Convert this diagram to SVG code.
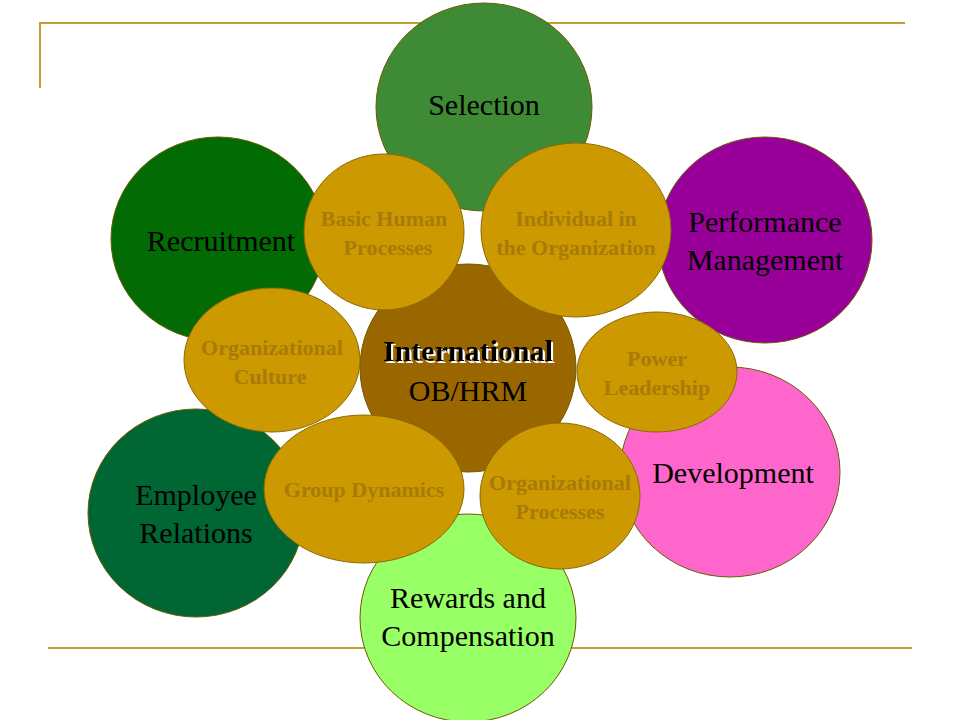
<svg xmlns="http://www.w3.org/2000/svg" width="960" height="720" viewBox="0 0 960 720">
<style>
.o{stroke:#6b5a00;stroke-width:1}
.g{fill:#CC9900;stroke:#8a6a00;stroke-width:1}
.t{font-family:"Liberation Serif",serif;font-size:30px;fill:#000;text-anchor:middle}
.s{font-family:"Liberation Serif",serif;font-size:22px;font-weight:bold;fill:#A87A08;text-anchor:middle}
.ln{stroke:#C0A030;stroke-width:2;fill:none}
</style>
<defs><filter id="sh" x="-10%" y="-30%" width="120%" height="160%"><feDropShadow dx="2" dy="2" stdDeviation="0" flood-color="#fff"/></filter></defs>
<rect width="960" height="720" fill="#fff"/>
<g id="connectors">
<path class="ln" d="M40,88 V23 H905"/>
<path class="ln" d="M48,648 H912"/>
</g>
<g id="selection"><ellipse class="o" cx="484" cy="107" rx="108" ry="104" fill="#3F8A35"/><text class="t" x="484" y="115">Selection</text></g>
<g id="recruitment"><ellipse class="o" cx="218" cy="239" rx="107" ry="102" fill="#036B03"/><text class="t" x="221" y="251">Recruitment</text></g>
<g id="performance"><ellipse class="o" cx="765" cy="240" rx="107" ry="103" fill="#990099"/><text class="t" x="765" y="232">Performance</text><text class="t" x="765" y="270">Management</text></g>
<g id="development"><ellipse class="o" cx="730" cy="472" rx="110" ry="105" fill="#FF66CC"/><text class="t" x="733" y="483">Development</text></g>
<g id="employee"><ellipse class="o" cx="196" cy="513" rx="108" ry="104" fill="#006633"/><text class="t" x="196" y="505">Employee</text><text class="t" x="196" y="543">Relations</text></g>
<g id="rewards"><ellipse class="o" cx="468" cy="618" rx="108" ry="104" fill="#99FF66"/><text class="t" x="468" y="608">Rewards and</text><text class="t" x="468" y="646">Compensation</text></g>
<g id="center"><ellipse class="o" cx="468" cy="368" rx="108" ry="104" fill="#996600"/>
<text class="t" x="468" y="361" font-weight="bold" filter="url(#sh)">International</text>
<text class="t" x="468" y="401">OB/HRM</text></g>
<g id="basic"><ellipse class="g" cx="384" cy="232" rx="80" ry="78"/><text class="s" x="384" y="226">Basic Human</text><text class="s" x="388" y="255">Processes</text></g>
<g id="individual"><ellipse class="g" cx="576" cy="230" rx="95" ry="87"/><text class="s" x="576" y="226">Individual in</text><text class="s" x="576" y="255">the Organization</text></g>
<g id="culture"><ellipse class="g" cx="272" cy="360" rx="88" ry="72"/><text class="s" x="272" y="355">Organizational</text><text class="s" x="270" y="384">Culture</text></g>
<g id="power"><ellipse class="g" cx="657" cy="372" rx="80" ry="60"/><text class="s" x="657" y="366">Power</text><text class="s" x="657" y="395">Leadership</text></g>
<g id="group"><ellipse class="g" cx="364" cy="489" rx="100" ry="74"/><text class="s" x="364" y="497">Group Dynamics</text></g>
<g id="processes"><ellipse class="g" cx="560" cy="496" rx="80" ry="73"/><text class="s" x="560" y="490">Organizational</text><text class="s" x="560" y="519">Processes</text></g>
</svg>
